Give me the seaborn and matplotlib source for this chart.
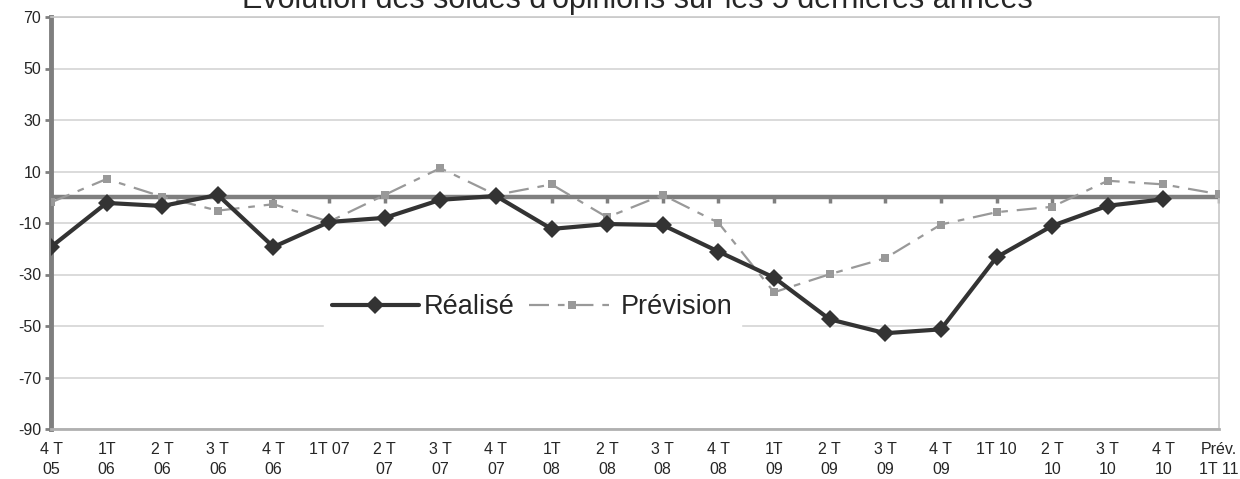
import matplotlib
matplotlib.use("Agg")
import matplotlib.pyplot as plt
import numpy as np
import pandas as pd
import seaborn as sns

QUARTERS = ["4 T\n05", "1T\n06", "2 T\n06", "3 T\n06", "4 T\n06", "1T 07", "2 T\n07",
            "3 T\n07", "4 T\n07", "1T\n08", "2 T\n08", "3 T\n08", "4 T\n08", "1T\n09",
            "2 T\n09", "3 T\n09", "4 T\n09", "1T 10", "2 T\n10", "3 T\n10", "4 T\n10",
            "Prév.\n1T 11"]
REALISE = [-19.3, -2.2, -3.4, 0.9, -19.3, -9.6, -8.0, -1.0, 0.5, -12.3, -10.4, -10.8,
           -21.1, -31.2, -47.4, -52.8, -51.3, -23.3, -11.1, -3.3, -0.8, np.nan]
PREVISION = [-2.0, 7.1, 0.2, -5.2, -2.7, -9.5, 0.9, 11.3, 0.9, 5.0, -7.8, 0.9,
             -9.9, -36.9, -29.9, -23.7, -10.6, -5.8, -3.7, 6.4, 5.0, 1.2]
Y_TICKS = [-90, -70, -50, -30, -10, 10, 30, 50, 70]
TITLE = "Evolution des soldes d'opinions sur les 5 dernières années"

sns.set_style("white")
plt.rcParams["font.family"] = ["Liberation Sans", "DejaVu Sans"]
plt.rcParams["axes.unicode_minus"] = False

df = pd.DataFrame({"pos": np.arange(len(QUARTERS)), "realise": REALISE, "prevision": PREVISION})

fig = plt.figure(figsize=(12.4, 4.79), dpi=100)
ax = fig.add_axes([51 / 1240, 1 - 429 / 479, 1168 / 1240, 412 / 479])

for y in Y_TICKS:
    ax.axhline(y, color="#d4d4d4", lw=1.2, zorder=0)

# zero axis with its little tick marks
ax.axhline(0, color="#7f7f7f", lw=3.2, zorder=1)
ax.plot(df["pos"], np.zeros(len(df)), ls="none", marker=3, ms=4, mew=2.5,
        color="#7f7f7f", zorder=1)

sns.lineplot(data=df, x="pos", y="prevision", ax=ax, color="#999999", lw=1.6,
             marker="s", markersize=6, markeredgewidth=0, label="Prévision", zorder=3)
ax.lines[-1].set_dashes([9, 4, 3, 4])
sns.lineplot(data=df, x="pos", y="realise", ax=ax, color="#333333", lw=3.0,
             marker="D", markersize=9, markeredgewidth=0, label="Réalisé", zorder=4)

ax.set_xlim(0, len(QUARTERS) - 1)
ax.set_ylim(-90, 70)
ax.set_yticks(Y_TICKS)
ax.set_xticks(df["pos"])
ax.set_xticklabels(QUARTERS, fontsize=11.5, linespacing=1.45)
ax.tick_params(axis="y", labelsize=11.5, length=4, width=2, color="#7f7f7f", pad=3, left=True)
ax.tick_params(axis="x", length=0, pad=9)
ax.set_xlabel("")
ax.set_ylabel("")

for side in ["top", "right", "bottom", "left"]:
    ax.spines[side].set_color("#c8c8c8")
    ax.spines[side].set_linewidth(1.2)
ax.spines["left"].set_color("#7f7f7f")
ax.spines["left"].set_linewidth(3.5)
ax.spines["bottom"].set_color("#b0b0b0")
ax.spines["bottom"].set_linewidth(2)

handles, labels = ax.get_legend_handles_labels()
leg = ax.legend(handles[::-1], labels[::-1], ncol=2, loc="center",
                bbox_to_anchor=(0.412, 0.295), fontsize=19.5, frameon=True,
                facecolor="white", edgecolor="white", framealpha=1,
                handlelength=3.2, handletextpad=0.2, columnspacing=0.5,
                borderpad=0.3, fancybox=False)
leg.set_zorder(5)

fig.text(637 / 1240, 1 - 8 / 479, TITLE, ha="center", va="baseline", fontsize=22)

fig.savefig("out.png", dpi=100)
